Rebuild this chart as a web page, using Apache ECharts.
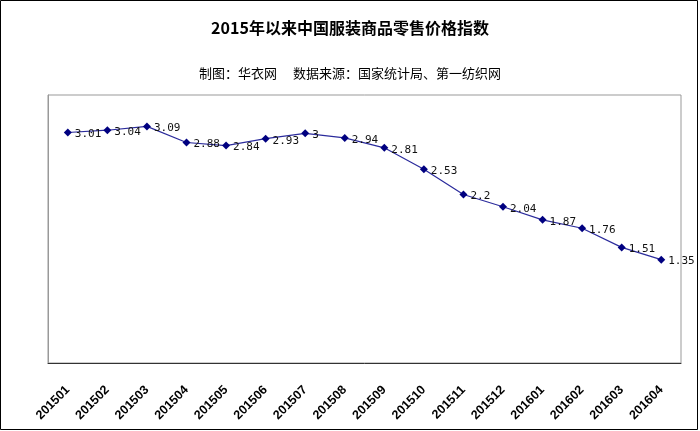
<!DOCTYPE html>
<html><head><meta charset="utf-8">
<script src="https://cdn.jsdelivr.net/npm/echarts@6/dist/echarts.min.js"></script>
<style>html,body{margin:0;padding:0;background:#fff}#c{width:700px;height:431px}</style>
</head><body><div id="c"></div>
<script>
const titleText = '2015年以来中国服装商品零售价格指数';
const subtitleText = '制图：华衣网　 数据来源：国家统计局、第一纺织网';
const categories = ['201501','201502','201503','201504','201505','201506','201507','201508','201509','201510','201511','201512','201601','201602','201603','201604'];
const values = [3.01, 3.04, 3.09, 2.88, 2.84, 2.93, 3, 2.94, 2.81, 2.53, 2.2, 2.04, 1.87, 1.76, 1.51, 1.35];

const chart = echarts.init(document.getElementById('c'), null, {renderer:'canvas'});
chart.setOption({
  animation:false,
  backgroundColor:'#fff',
  title:[{
    text:titleText, left:'center', top:15,
    textStyle:{fontFamily:'Noto Sans CJK SC', fontWeight:'bold', fontSize:16, color:'#000'}
  },{
    text:subtitleText, left:'center', top:62,
    textStyle:{fontFamily:'Noto Sans CJK SC', fontWeight:'normal', fontSize:13, color:'#000'}
  }],
  graphic:[{type:'rect', shape:{x:0.5,y:0.5,width:697,height:429}, style:{fill:null, stroke:'#000', lineWidth:1}, silent:true}],
  grid:{left:48, right:19, top:95, bottom:68, show:true, borderColor:'#999', borderWidth:1, backgroundColor:'transparent'},
  xAxis:{
    type:'category', data:categories, boundaryGap:true,
    axisLine:{lineStyle:{color:'#333', width:1}},
    axisTick:{inside:true, length:4, alignWithLabel:false, lineStyle:{color:'#333'}},
    axisLabel:{rotate:45, margin:25, interval:0, fontFamily:'Liberation Sans', fontWeight:'bold', fontSize:12.5, color:'#000'}
  },
  yAxis:{
    type:'value', min:0, max:3.5,
    axisLine:{show:true, lineStyle:{color:'#999'}},
    axisTick:{show:false}, axisLabel:{show:false}, splitLine:{show:false}
  },
  series:[{
    type:'line', data:values,
    symbol:'diamond', symbolSize:8,
    lineStyle:{color:'#2b2b9c', width:1.2},
    itemStyle:{color:'#000080'},
    label:{show:true, position:'right', distance:3, offset:[0,2], fontFamily:'DejaVu Sans Mono', fontSize:11, color:'#111'}
  }]
});
</script></body></html>
